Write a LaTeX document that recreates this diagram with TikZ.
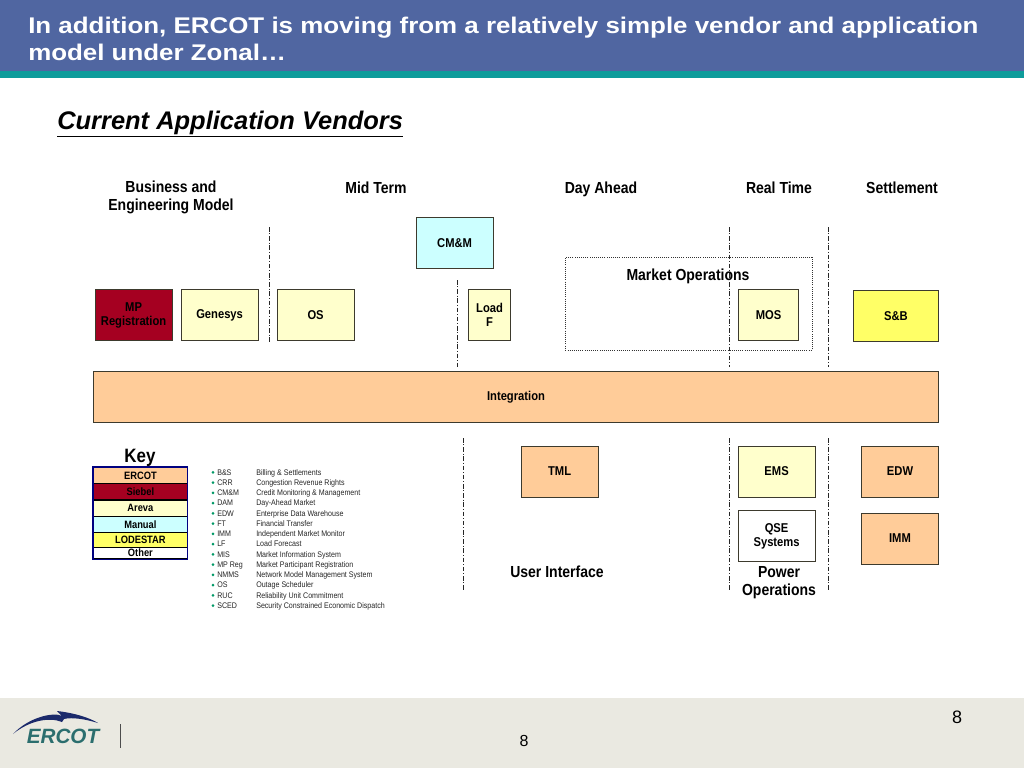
\documentclass[tikz,border=0pt]{standalone}
\usepackage{fontspec}
\setmainfont{Liberation Sans}
\newfontfamily\nar[FakeStretch=0.875]{Liberation Sans}
\newfontfamily\wide[FakeStretch=1.143]{Liberation Sans}
\begin{document}
\begin{tikzpicture}[x=0.75pt,y=-0.75pt,
  box/.style={draw=black!75!olive,line width=0.5pt,inner sep=0pt,minimum width=#1,font=\nar\bfseries\fontsize{9.6}{10.4}\selectfont,align=center,anchor=north west,minimum height=38.6pt},
  box/.default=57.4pt,
  sep/.style={draw=black!85,line width=0.75pt,dash pattern=on 3.5pt off 1.3pt on 0.8pt off 1.3pt},
  head/.style={font=\nar\bfseries\fontsize{12}{12.8}\selectfont,align=center,inner sep=0pt,text=black,anchor=base},
  keyrow/.style={draw=black,line width=0.6pt,inner sep=0pt,minimum width=70.5pt,anchor=north west,font=\nar\bfseries\fontsize{8}{8}\selectfont},
  abbr/.style={font=\nar\fontsize{6.08}{6.3}\selectfont,anchor=base west,inner sep=0pt,text=black!85},
  dot/.style={circle,fill=teal!80!green,inner sep=0pt,minimum size=2.2pt}]
\definecolor{hdr}{HTML}{5066A1}
\definecolor{tealbar}{HTML}{0E9C9B}
\definecolor{foot}{HTML}{EAE9E1}
\definecolor{orangebox}{HTML}{FFCC99}
\definecolor{redbox}{HTML}{A50021}
\definecolor{creambox}{HTML}{FFFFCC}
\definecolor{cyanbox}{HTML}{CCFFFF}
\definecolor{yelbox}{HTML}{FFFF66}
\definecolor{logoblue}{HTML}{1B2A6B}
\definecolor{logoteal}{HTML}{2B6E6E}
\useasboundingbox (0,0) rectangle (1024,768);
\fill[white] (0,0) rectangle (1024,768);
\fill[hdr] (0,0) rectangle (1024,71);
\fill[tealbar] (0,71) rectangle (1024,78);
\fill[foot] (0,698) rectangle (1024,768);
\node[anchor=west,inner sep=0pt,text=white,align=left,font=\wide\bfseries\fontsize{17}{20.2}\selectfont] (title) at (28,38.5) {In addition, ERCOT is moving from a relatively simple vendor and application\\model under Zonal\ldots};
\node[anchor=base west,inner sep=0pt,font=\bfseries\itshape\fontsize{19.1}{21}\selectfont] (sub) at (57,129) {\underline{Current Application Vendors}};
% separators
\coordinate (s1a) at (269,227); \coordinate (s1b) at (269,343);
\coordinate (s2a) at (457,280); \coordinate (s2b) at (457,367);
\coordinate (s3a) at (729,227); \coordinate (s3b) at (729,367);
\coordinate (s4a) at (828,227); \coordinate (s4b) at (828,367);
\coordinate (s5a) at (463,438); \coordinate (s5b) at (463,590);
\coordinate (s6a) at (729,438); \coordinate (s6b) at (729,590);
\coordinate (s7a) at (828,438); \coordinate (s7b) at (828,590);
\foreach \n in {1,...,7} \draw[sep] (s\n a) -- (s\n b);
% headers
\node[head] (h1) at (171,210) {Business and\\Engineering Model};
\node[head] (h2) at (376,193) {Mid Term};
\node[head] (h3) at (601,193) {Day Ahead};
\node[head] (h4) at (779,193) {Real Time};
\node[head] (h5) at (902,193) {Settlement};
% market ops
\node[draw=black!80,densely dotted,line width=0.6pt,minimum width=185pt,minimum height=69.5pt,inner sep=0pt,anchor=north west] (mo) at (565,257) {};
\node[head] (molabel) at (688,280) {Market Operations};
% boxes
\node[box,fill=cyanbox] (cmm) at (416,217) {CM\&M};
\node[box,fill=redbox,text=black] (mp) at (95,289) {MP\\Registration};
\node[box,fill=creambox] (gen) at (181,289) {Genesys};
\node[box,fill=creambox] (os) at (277,289) {OS};
\node[box=31.8pt,fill=creambox] (lf) at (468,289) {Load\\F};
\node[box=45.3pt,fill=creambox] (mos) at (738,289) {MOS};
\node[box=64pt,fill=yelbox] (sb) at (853,290) {S\&B};
\node[box=634pt,fill=orangebox] (int) at (93,371) {Integration};
\node[box,fill=orangebox] (tml) at (521,446) {\raisebox{2pt}{TML}};
\node[box,fill=creambox] (ems) at (738,446) {\raisebox{2pt}{EMS}};
\node[box=58pt,fill=orangebox] (edw) at (861,446) {\raisebox{2pt}{EDW}};
\node[box,fill=white] (qse) at (738,510) {QSE\\Systems};
\node[box=58pt,fill=orangebox] (imm) at (861,513) {\raisebox{2pt}{IMM}};
\node[head] (ui) at (557,577) {User Interface};
\node[head] (po) at (779,595) {Power\\Operations};
% key
\node[font=\nar\bfseries\fontsize{14.5}{15}\selectfont,inner sep=0pt,anchor=base] (key) at (140,462) {Key};
\node[keyrow,fill=orangebox,minimum height=12pt] (k1) at (93,467) {ERCOT};
\node[keyrow,fill=redbox,minimum height=12pt] (k2) at (93,483) {Siebel};
\node[keyrow,fill=creambox,minimum height=12.4pt] (k3) at (93,499.5) {Areva};
\node[keyrow,fill=cyanbox,minimum height=12pt] (k4) at (93,516) {Manual};
\node[keyrow,fill=yelbox,minimum height=11pt] (k5) at (93,532) {LODESTAR};
\node[keyrow,fill=white,minimum height=8.5pt] (k6) at (93,547) {Other};
\draw[draw=blue!50!black,line width=0.8pt] (k1.north west) rectangle (k6.south east);
% legend
\foreach \i/\a/\d in {0/B\&S/Billing \& Settlements,1/CRR/Congestion Revenue Rights,2/CM\&M/Credit Monitoring \& Management,3/DAM/Day-Ahead Market,4/EDW/Enterprise Data Warehouse,5/FT/Financial Transfer,6/IMM/Independent Market Monitor,7/LF/Load Forecast,8/MIS/Market Information System,9/MP Reg/Market Participant Registration,10/NMMS/Network Model Management System,11/OS/Outage Scheduler,12/RUC/Reliability Unit Commitment,13/SCED/Security Constrained Economic Dispatch}{
  \node[dot] (b\i) at (213,472.3+10.25*\i) {};
  \node[abbr] (a\i) at (217,475+10.25*\i) {\a};
  \node[abbr] (d\i) at (256,475+10.25*\i) {\d};
}
% footer
\fill[logoblue] (13,734) .. controls (30,716) and (55,712) .. (62,716) -- (57,711) .. controls (75,713) and (90,718) .. (98,723) .. controls (85,719) and (72,717) .. (64,719) -- (62,722) .. controls (50,717) and (30,720) .. (13,734) -- cycle;
\node[font=\bfseries\itshape\fontsize{15.5}{18}\selectfont,text=logoteal,inner sep=0pt,draw=none] (logo) at (63,736) {ERCOT};
\coordinate (ba) at (120,724); \coordinate (bb) at (120,748);
\draw[black!70,line width=0.6pt] (ba) -- (bb);
\node[font=\fontsize{13.5}{14}\selectfont,inner sep=0pt] (p1) at (957,717) {8};
\node[font=\fontsize{12}{13}\selectfont,inner sep=0pt] (p2) at (524,741) {8};
\end{tikzpicture}
\end{document}
